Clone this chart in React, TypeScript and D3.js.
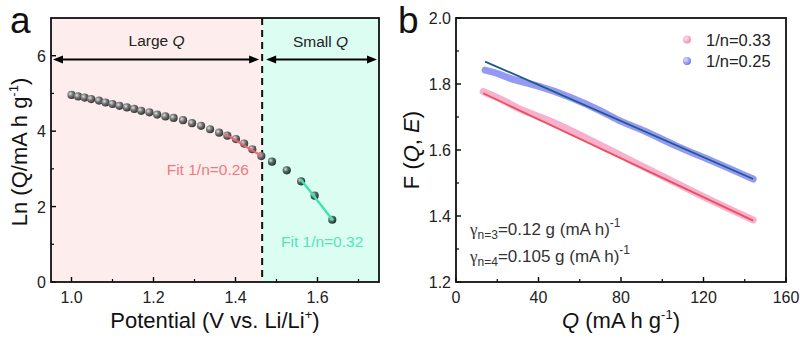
import * as d3 from 'd3'

const FONT = '"Liberation Sans", Arial, sans-serif'

// panel a
const largeV = [1.0, 1.016, 1.032, 1.048, 1.067, 1.083, 1.1, 1.117, 1.135, 1.153, 1.17, 1.19, 1.209, 1.229, 1.249, 1.272, 1.294, 1.316, 1.338, 1.36, 1.38, 1.401, 1.421, 1.441, 1.463]
const largeLn = [4.96, 4.92, 4.89, 4.85, 4.81, 4.76, 4.72, 4.67, 4.63, 4.59, 4.54, 4.5, 4.44, 4.39, 4.35, 4.29, 4.21, 4.14, 4.05, 3.96, 3.88, 3.79, 3.67, 3.52, 3.34]
const smallV = [1.489, 1.525, 1.56, 1.593, 1.636]
const smallLn = [3.19, 2.96, 2.67, 2.29, 1.65]
const fitLargeV = [1.375, 1.464]
const fitLargeLn = [3.92, 3.34]
const fitSmallV = [1.56, 1.638]
const fitSmallLn = [2.71, 1.63]
const boundaryV = 1.465
const arrowLn = 5.9
const aXTicks = [1.0, 1.2, 1.4, 1.6]
const aXMinor = [1.1, 1.3, 1.5, 1.7]
const aYTicks = [0, 2, 4, 6]
const aYMinor = [1, 3, 5]

// panel b
const pinkQ = [13.2, 22.9, 31, 47.2, 63.4, 79.5, 90.8, 107, 123.2, 144.1]
const pinkF = [1.777, 1.752, 1.721, 1.686, 1.635, 1.585, 1.549, 1.499, 1.448, 1.388]
const blueQ = [14.1, 19.7, 27.6, 39.1, 55.3, 71.4, 79.5, 90.8, 107, 123.2, 144.1]
const blueF = [1.842, 1.834, 1.812, 1.797, 1.762, 1.716, 1.686, 1.661, 1.61, 1.57, 1.512]
const redFitQ = [13.2, 144.1]
const redFitF = [1.772, 1.386]
const blueFitQ = [14.1, 144.1]
const blueFitF = [1.868, 1.512]
const bXTicks = [0, 40, 80, 120, 160]
const bXMinor = [20, 60, 100, 140]
const bYTicks = [1.2, 1.4, 1.6, 1.8, 2.0]
const bYMinor = [1.3, 1.5, 1.7, 1.9]
const legendLabels = ['1/n=0.33', '1/n=0.25']

const ax = d3.scaleLinear().domain([0.95, 1.75]).range([51, 379])
const ay = d3.scaleLinear().domain([0, 7]).range([282, 18])
const bx = d3.scaleLinear().domain([0, 160]).range([456, 786])
const by = d3.scaleLinear().domain([1.2, 2.0]).range([282, 18])

const zip = (a: number[], b: number[]) => a.map((v, i) => [v, b[i]] as [number, number])

function Frame({ x, y, xt, xm, yt, ym, fmtX, fmtY }: any) {
  const [x0, x1] = x.range()
  const [y0, y1] = y.range()
  return (
    <g fontFamily={FONT} fontSize={16} fill="#222">
      {xt.map((t: number) => (
        <g key={'xt' + t}>
          <line x1={x(t)} x2={x(t)} y1={y0} y2={y0 - 5} stroke="#000" strokeWidth={1.4} />
          <text x={x(t)} y={y0 + 21} textAnchor="middle">{fmtX(t)}</text>
        </g>
      ))}
      {xm.map((t: number) => <line key={'xm' + t} x1={x(t)} x2={x(t)} y1={y0} y2={y0 - 3} stroke="#000" strokeWidth={1.2} />)}
      {yt.map((t: number) => (
        <g key={'yt' + t}>
          <line x1={x0} x2={x0 + 5} y1={y(t)} y2={y(t)} stroke="#000" strokeWidth={1.4} />
          <text x={x0 - 5} y={y(t) + 6} textAnchor="end">{fmtY(t)}</text>
        </g>
      ))}
      {ym.map((t: number) => <line key={'ym' + t} x1={x0} x2={x0 + 3} y1={y(t)} y2={y(t)} stroke="#000" strokeWidth={1.2} />)}
      <rect x={x0} y={y1} width={x1 - x0} height={y0 - y1} fill="none" stroke="#111" strokeWidth={1.8} />
    </g>
  )
}

function Arrow({ from, to, y }: { from: number; to: number; y: number }) {
  const h = 10, w = 4
  return (
    <g>
      <line x1={from + h - 2} x2={to - h + 2} y1={y} y2={y} stroke="#000" strokeWidth={2} />
      <path d={`M${from},${y}L${from + h},${y - w}L${from + h},${y + w}Z`} fill="#000" />
      <path d={`M${to},${y}L${to - h},${y - w}L${to - h},${y + w}Z`} fill="#000" />
    </g>
  )
}

export default function App() {
  const lineA = d3.line<[number, number]>().x(d => ax(d[0])).y(d => ay(d[1]))
  const lineB = d3.line<[number, number]>().x(d => bx(d[0])).y(d => by(d[1])).curve(d3.curveBasis)
  const xb = ax(boundaryV)
  const [ax0, ax1] = ax.range()
  const [ay0, ay1] = ay.range()
  const [bx0, bx1] = bx.range()
  return (
    <svg width={800} height={338} style={{ position: 'absolute', left: 0, top: 0, background: '#fff' }}>
      <defs>
        <radialGradient id="ball" cx="35%" cy="35%" r="70%">
          <stop offset="0%" stopColor="#e0e0e0" />
          <stop offset="45%" stopColor="#777" />
          <stop offset="100%" stopColor="#2e2e2e" />
        </radialGradient>
        <radialGradient id="ballG" cx="35%" cy="35%" r="70%">
          <stop offset="0%" stopColor="#cfe2da" />
          <stop offset="45%" stopColor="#536b66" />
          <stop offset="100%" stopColor="#1f2e2a" />
        </radialGradient>
        <radialGradient id="ballPink" cx="35%" cy="35%" r="70%">
          <stop offset="0%" stopColor="#fde0ec" />
          <stop offset="100%" stopColor="#f08cb6" />
        </radialGradient>
        <radialGradient id="ballBlue" cx="35%" cy="35%" r="70%">
          <stop offset="0%" stopColor="#dcdcff" />
          <stop offset="100%" stopColor="#6e74ea" />
        </radialGradient>
      </defs>

      {/* panel a */}
      <rect x={ax0} y={ay1} width={xb - ax0} height={ay0 - ay1} fill="#fdeeed" />
      <rect x={xb} y={ay1} width={ax1 - xb} height={ay0 - ay1} fill="#dcfdf1" />
      <line x1={xb} x2={xb} y1={ay1} y2={ay0} stroke="#111" strokeWidth={2} strokeDasharray="7,5" />
      <Arrow from={ax0 + 2} to={xb - 3} y={ay(arrowLn)} />
      <Arrow from={xb + 4} to={ax1 - 2} y={ay(arrowLn)} />
      <text x={(ax0 + xb) / 2} y={46} textAnchor="middle" fontFamily={FONT} fontSize={15.5} fill="#222">Large <tspan fontStyle="italic">Q</tspan></text>
      <text x={(xb + ax1) / 2} y={47} textAnchor="middle" fontFamily={FONT} fontSize={15.5} fill="#222">Small <tspan fontStyle="italic">Q</tspan></text>
      {zip(largeV, largeLn).map((d, i) => <circle key={'l' + i} cx={ax(d[0])} cy={ay(d[1])} r={4.1} fill="url(#ball)" />)}
      {zip(smallV, smallLn).map((d, i) => <circle key={'s' + i} cx={ax(d[0])} cy={ay(d[1])} r={4.1} fill="url(#ballG)" />)}
      <path d={lineA(zip(fitLargeV, fitLargeLn)) || ''} stroke="#ee6470" strokeWidth={2.2} fill="none" opacity={0.9} />
      <path d={lineA(zip(fitSmallV, fitSmallLn)) || ''} stroke="#3fe2b2" strokeWidth={2.4} fill="none" />
      <text x={249} y={175} textAnchor="end" fontFamily={FONT} fontSize={15.5} fill="#f07a80">Fit 1/n=0.26</text>
      <text x={281} y={247} fontFamily={FONT} fontSize={15.5} fill="#52e4bb">Fit 1/n=0.32</text>
      <Frame x={ax} y={ay} xt={aXTicks} xm={aXMinor} yt={aYTicks} ym={aYMinor} fmtX={d3.format('.1f')} fmtY={d3.format('d')} />
      <text x={(ax0 + ax1) / 2} y={328} textAnchor="middle" fontFamily={FONT} fontSize={22} fill="#111">Potential (V vs. Li/Li<tspan fontSize={13} dy={-9}>+</tspan><tspan dy={9}>)</tspan></text>
      <text transform={`translate(27,${(ay0 + ay1) / 2 + 2}) rotate(-90)`} textAnchor="middle" fontFamily={FONT} fontSize={22} fill="#111">Ln (Q/mA h g<tspan fontSize={13} dy={-9}>-1</tspan><tspan dy={9}>)</tspan></text>
      <text x={10} y={33} fontFamily={FONT} fontSize={37} fill="#111">a</text>

      {/* panel b */}
      <path d={lineB(zip(pinkQ, pinkF)) || ''} stroke="#f7a2c4" strokeWidth={7} strokeLinecap="round" fill="none" opacity={0.85} />
      <path d={lineB(zip(blueQ, blueF)) || ''} stroke="#8a8ef2" strokeWidth={7} strokeLinecap="round" fill="none" opacity={0.9} />
      <path d={lineB(zip(redFitQ, redFitF)) || ''} stroke="#e8505e" strokeWidth={1.8} fill="none" />
      <path d={lineB(zip(blueFitQ, blueFitF)) || ''} stroke="#1d5b8c" strokeWidth={1.8} fill="none" />
      {legendLabels.map((l, i) => (
        <g key={l}>
          <circle cx={687} cy={39.5 + i * 21.5} r={4} fill={i === 0 ? 'url(#ballPink)' : 'url(#ballBlue)'} />
          <text x={706} y={45.5 + i * 21.5} fontFamily={FONT} fontSize={16.5} fill="#222">{l}</text>
        </g>
      ))}
      <text x={470} y={235} fontFamily={FONT} fontSize={17} fill="#333">
        <tspan fontFamily="'Liberation Serif', serif">γ</tspan><tspan fontSize={12} dy={4}>n=3</tspan><tspan dy={-4}>=0.12 g (mA h)</tspan><tspan fontSize={12} dy={-8}>-1</tspan>
      </text>
      <text x={470} y={262} fontFamily={FONT} fontSize={17} fill="#333">
        <tspan fontFamily="'Liberation Serif', serif">γ</tspan><tspan fontSize={12} dy={4}>n=4</tspan><tspan dy={-4}>=0.105 g (mA h)</tspan><tspan fontSize={12} dy={-8}>-1</tspan>
      </text>
      <Frame x={bx} y={by} xt={bXTicks} xm={bXMinor} yt={bYTicks} ym={bYMinor} fmtX={d3.format('d')} fmtY={d3.format('.1f')} />
      <text x={(bx0 + bx1) / 2} y={328} textAnchor="middle" fontFamily={FONT} fontSize={22} fill="#111"><tspan fontStyle="italic">Q</tspan> (mA h g<tspan fontSize={13} dy={-9}>-1</tspan><tspan dy={9}>)</tspan></text>
      <text transform={`translate(419,${(ay0 + ay1) / 2}) rotate(-90)`} textAnchor="middle" fontFamily={FONT} fontSize={22} fill="#111">F (<tspan fontStyle="italic">Q</tspan>, <tspan fontStyle="italic">E</tspan>)</text>
      <text x={398} y={33} fontFamily={FONT} fontSize={37} fill="#111">b</text>
    </svg>
  )
}
